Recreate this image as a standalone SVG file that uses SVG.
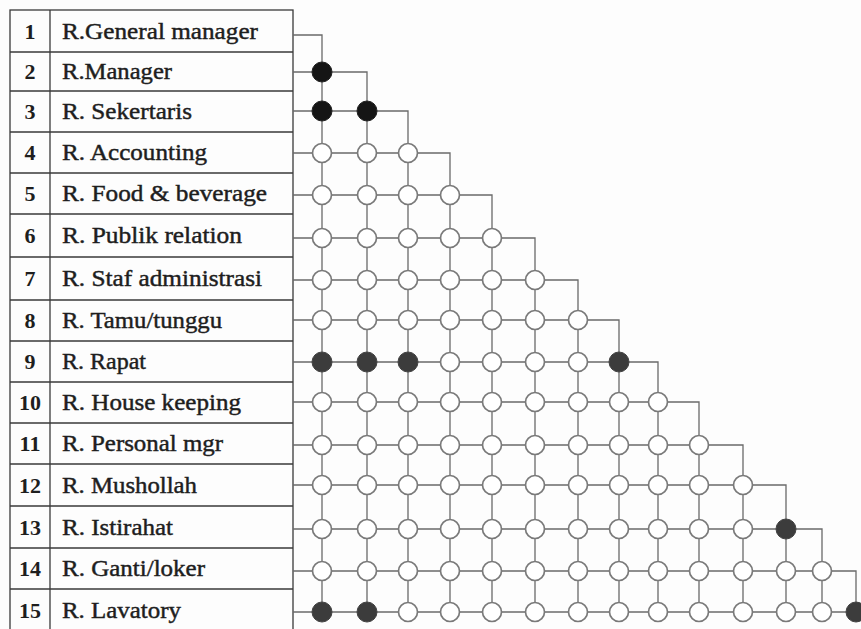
<svg xmlns="http://www.w3.org/2000/svg" width="861" height="629" viewBox="0 0 861 629">
  <style>
    .cell { fill: none; stroke: #3a3a3a; stroke-width: 1.3; }
    .num { font-family: "Liberation Serif", "Times New Roman", serif; font-weight: bold; font-size: 22px; fill: #1e1e1e; text-anchor: middle; }
    .lbl { font-family: "Liberation Serif", "Times New Roman", serif; font-size: 23px; fill: #1e1e1e; stroke: #1e1e1e; stroke-width: 0.45; }
    .wire { fill: none; stroke: #6a6a6a; stroke-width: 1.3; }
    .open { fill: #ffffff; stroke: #7a7a7a; stroke-width: 1.7; }
    .black { fill: #151515; stroke: #222; stroke-width: 1; }
    .dark { fill: #3c3c3c; stroke: #444; stroke-width: 1; }
  </style>
  <rect width="861" height="629" fill="#fdfdfd"/>

  <!-- room table -->
  <g id="table">
    <rect class="cell" x="10" y="10" width="283" height="622"/>
    <line class="cell" x1="50" y1="10" x2="50" y2="632"/>
    <path class="cell" d="M10,52H293 M10,91H293 M10,132H293 M10,173H293 M10,214H293 M10,257H293 M10,300H293 M10,341H293 M10,382H293 M10,423H293 M10,464H293 M10,506H293 M10,548H293 M10,589H293"/>
  </g>

  <g id="row1"><text class="num" x="30" y="39">1</text><text class="lbl" x="62" y="39" textLength="196" lengthAdjust="spacingAndGlyphs">R.General manager</text></g>
  <g id="row2"><text class="num" x="30" y="79">2</text><text class="lbl" x="62" y="79" textLength="110" lengthAdjust="spacingAndGlyphs">R.Manager</text></g>
  <g id="row3"><text class="num" x="30" y="119">3</text><text class="lbl" x="62" y="119" textLength="130" lengthAdjust="spacingAndGlyphs">R. Sekertaris</text></g>
  <g id="row4"><text class="num" x="30" y="160">4</text><text class="lbl" x="62" y="160" textLength="145" lengthAdjust="spacingAndGlyphs">R. Accounting</text></g>
  <g id="row5"><text class="num" x="30" y="201">5</text><text class="lbl" x="62" y="201" textLength="205" lengthAdjust="spacingAndGlyphs">R. Food &amp; beverage</text></g>
  <g id="row6"><text class="num" x="30" y="243">6</text><text class="lbl" x="62" y="243" textLength="180" lengthAdjust="spacingAndGlyphs">R. Publik relation</text></g>
  <g id="row7"><text class="num" x="30" y="286">7</text><text class="lbl" x="62" y="286" textLength="200" lengthAdjust="spacingAndGlyphs">R. Staf administrasi</text></g>
  <g id="row8"><text class="num" x="30" y="328">8</text><text class="lbl" x="62" y="328" textLength="160" lengthAdjust="spacingAndGlyphs">R. Tamu/tunggu</text></g>
  <g id="row9"><text class="num" x="30" y="369">9</text><text class="lbl" x="62" y="369" textLength="84" lengthAdjust="spacingAndGlyphs">R. Rapat</text></g>
  <g id="row10"><text class="num" x="30" y="410">10</text><text class="lbl" x="62" y="410" textLength="179" lengthAdjust="spacingAndGlyphs">R. House keeping</text></g>
  <g id="row11"><text class="num" x="30" y="451">11</text><text class="lbl" x="62" y="451" textLength="161" lengthAdjust="spacingAndGlyphs">R. Personal mgr</text></g>
  <g id="row12"><text class="num" x="30" y="493">12</text><text class="lbl" x="62" y="493" textLength="135" lengthAdjust="spacingAndGlyphs">R. Mushollah</text></g>
  <g id="row13"><text class="num" x="30" y="535">13</text><text class="lbl" x="62" y="535" textLength="111" lengthAdjust="spacingAndGlyphs">R. Istirahat</text></g>
  <g id="row14"><text class="num" x="30" y="576">14</text><text class="lbl" x="62" y="576" textLength="143" lengthAdjust="spacingAndGlyphs">R. Ganti/loker</text></g>
  <g id="row15"><text class="num" x="30" y="618">15</text><text class="lbl" x="62" y="618" textLength="119" lengthAdjust="spacingAndGlyphs">R. Lavatory</text></g>

  <!-- relation grid: each row runs right, then turns down to the last row -->
  <g id="connectors" class="wire">
    <path d="M293,35H322V612"/>
    <path d="M293,72H367V612"/>
    <path d="M293,111H408V612"/>
    <path d="M293,153H450V612"/>
    <path d="M293,195H492V612"/>
    <path d="M293,238H535V612"/>
    <path d="M293,280H578V612"/>
    <path d="M293,320H619V612"/>
    <path d="M293,362H658V612"/>
    <path d="M293,402H699V612"/>
    <path d="M293,445H743V612"/>
    <path d="M293,485H786V612"/>
    <path d="M293,529H822V612"/>
    <path d="M293,571H856V612"/>
    <path d="M293,612H856"/>
  </g>

  <!-- relation nodes -->
  <g id="nodes-r2"><circle class="black" cx="322" cy="72" r="10"/></g>
  <g id="nodes-r3"><circle class="black" cx="322" cy="111" r="10"/><circle class="black" cx="367" cy="111" r="10"/></g>
  <g id="nodes-r4">
    <circle class="open" cx="322" cy="153" r="9.5"/><circle class="open" cx="367" cy="153" r="9.5"/><circle class="open" cx="408" cy="153" r="9.5"/>
  </g>
  <g id="nodes-r5">
    <circle class="open" cx="322" cy="195" r="9.5"/><circle class="open" cx="367" cy="195" r="9.5"/><circle class="open" cx="408" cy="195" r="9.5"/><circle class="open" cx="450" cy="195" r="9.5"/>
  </g>
  <g id="nodes-r6">
    <circle class="open" cx="322" cy="238" r="9.5"/><circle class="open" cx="367" cy="238" r="9.5"/><circle class="open" cx="408" cy="238" r="9.5"/><circle class="open" cx="450" cy="238" r="9.5"/><circle class="open" cx="492" cy="238" r="9.5"/>
  </g>
  <g id="nodes-r7">
    <circle class="open" cx="322" cy="280" r="9.5"/><circle class="open" cx="367" cy="280" r="9.5"/><circle class="open" cx="408" cy="280" r="9.5"/><circle class="open" cx="450" cy="280" r="9.5"/><circle class="open" cx="492" cy="280" r="9.5"/><circle class="open" cx="535" cy="280" r="9.5"/>
  </g>
  <g id="nodes-r8">
    <circle class="open" cx="322" cy="320" r="9.5"/><circle class="open" cx="367" cy="320" r="9.5"/><circle class="open" cx="408" cy="320" r="9.5"/><circle class="open" cx="450" cy="320" r="9.5"/><circle class="open" cx="492" cy="320" r="9.5"/><circle class="open" cx="535" cy="320" r="9.5"/><circle class="open" cx="578" cy="320" r="9.5"/>
  </g>
  <g id="nodes-r9">
    <circle class="dark" cx="322" cy="362" r="10"/><circle class="dark" cx="367" cy="362" r="10"/><circle class="dark" cx="408" cy="362" r="10"/><circle class="open" cx="450" cy="362" r="9.5"/><circle class="open" cx="492" cy="362" r="9.5"/><circle class="open" cx="535" cy="362" r="9.5"/><circle class="open" cx="578" cy="362" r="9.5"/><circle class="dark" cx="619" cy="362" r="10"/>
  </g>
  <g id="nodes-r10">
    <circle class="open" cx="322" cy="402" r="9.5"/><circle class="open" cx="367" cy="402" r="9.5"/><circle class="open" cx="408" cy="402" r="9.5"/><circle class="open" cx="450" cy="402" r="9.5"/><circle class="open" cx="492" cy="402" r="9.5"/><circle class="open" cx="535" cy="402" r="9.5"/><circle class="open" cx="578" cy="402" r="9.5"/><circle class="open" cx="619" cy="402" r="9.5"/><circle class="open" cx="658" cy="402" r="9.5"/>
  </g>
  <g id="nodes-r11">
    <circle class="open" cx="322" cy="445" r="9.5"/><circle class="open" cx="367" cy="445" r="9.5"/><circle class="open" cx="408" cy="445" r="9.5"/><circle class="open" cx="450" cy="445" r="9.5"/><circle class="open" cx="492" cy="445" r="9.5"/><circle class="open" cx="535" cy="445" r="9.5"/><circle class="open" cx="578" cy="445" r="9.5"/><circle class="open" cx="619" cy="445" r="9.5"/><circle class="open" cx="658" cy="445" r="9.5"/><circle class="open" cx="699" cy="445" r="9.5"/>
  </g>
  <g id="nodes-r12">
    <circle class="open" cx="322" cy="485" r="9.5"/><circle class="open" cx="367" cy="485" r="9.5"/><circle class="open" cx="408" cy="485" r="9.5"/><circle class="open" cx="450" cy="485" r="9.5"/><circle class="open" cx="492" cy="485" r="9.5"/><circle class="open" cx="535" cy="485" r="9.5"/><circle class="open" cx="578" cy="485" r="9.5"/><circle class="open" cx="619" cy="485" r="9.5"/><circle class="open" cx="658" cy="485" r="9.5"/><circle class="open" cx="699" cy="485" r="9.5"/><circle class="open" cx="743" cy="485" r="9.5"/>
  </g>
  <g id="nodes-r13">
    <circle class="open" cx="322" cy="529" r="9.5"/><circle class="open" cx="367" cy="529" r="9.5"/><circle class="open" cx="408" cy="529" r="9.5"/><circle class="open" cx="450" cy="529" r="9.5"/><circle class="open" cx="492" cy="529" r="9.5"/><circle class="open" cx="535" cy="529" r="9.5"/><circle class="open" cx="578" cy="529" r="9.5"/><circle class="open" cx="619" cy="529" r="9.5"/><circle class="open" cx="658" cy="529" r="9.5"/><circle class="open" cx="699" cy="529" r="9.5"/><circle class="open" cx="743" cy="529" r="9.5"/><circle class="dark" cx="786" cy="529" r="10"/>
  </g>
  <g id="nodes-r14">
    <circle class="open" cx="322" cy="571" r="9.5"/><circle class="open" cx="367" cy="571" r="9.5"/><circle class="open" cx="408" cy="571" r="9.5"/><circle class="open" cx="450" cy="571" r="9.5"/><circle class="open" cx="492" cy="571" r="9.5"/><circle class="open" cx="535" cy="571" r="9.5"/><circle class="open" cx="578" cy="571" r="9.5"/><circle class="open" cx="619" cy="571" r="9.5"/><circle class="open" cx="658" cy="571" r="9.5"/><circle class="open" cx="699" cy="571" r="9.5"/><circle class="open" cx="743" cy="571" r="9.5"/><circle class="open" cx="786" cy="571" r="9.5"/><circle class="open" cx="822" cy="571" r="9.5"/>
  </g>
  <g id="nodes-r15">
    <circle class="dark" cx="322" cy="612" r="10"/><circle class="dark" cx="367" cy="612" r="10"/><circle class="open" cx="408" cy="612" r="9.5"/><circle class="open" cx="450" cy="612" r="9.5"/><circle class="open" cx="492" cy="612" r="9.5"/><circle class="open" cx="535" cy="612" r="9.5"/><circle class="open" cx="578" cy="612" r="9.5"/><circle class="open" cx="619" cy="612" r="9.5"/><circle class="open" cx="658" cy="612" r="9.5"/><circle class="open" cx="699" cy="612" r="9.5"/><circle class="open" cx="743" cy="612" r="9.5"/><circle class="open" cx="786" cy="612" r="9.5"/><circle class="open" cx="822" cy="612" r="9.5"/><circle class="dark" cx="856" cy="612" r="10"/>
  </g>
</svg>
